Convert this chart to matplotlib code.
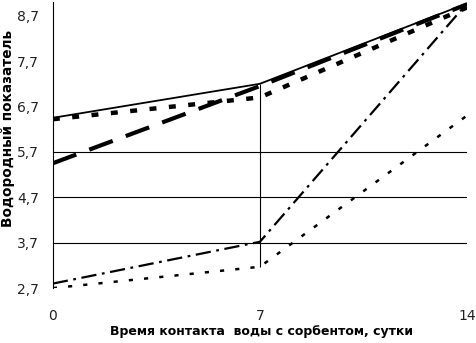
import numpy as np
import matplotlib
matplotlib.use('Agg')
import matplotlib.pyplot as plt

plt.rcParams['font.family'] = ['DejaVu Sans']
plt.rcParams['lines.scale_dashes'] = False

# days of contact
days = [0, 7, 14]
# pH values
ph_solid = [6.45, 7.2, 8.97]
ph_short = [6.42, 6.9, 8.88]
ph_long = [5.45, 7.15, 8.95]
ph_dashdot = [2.8, 3.72, 8.97]
ph_dotted = [2.7, 3.17, 6.5]

yticks = [2.7, 3.7, 4.7, 5.7, 6.7, 7.7, 8.7]
ytick_labels = ['2,7', '3,7', '4,7', '5,7', '6,7', '7,7', '8,7']
grid_vals = [3.7, 4.7, 5.7]

fig = plt.figure(figsize=(4.76, 3.43), dpi=100)
ax = fig.add_axes([0.111, 0.160, 0.870, 0.834])

for g in grid_vals:
    ax.axhline(g, color='black', lw=0.8, zorder=1)

# vertical high-low line at day 7
ax.vlines(7, ph_dotted[1], ph_solid[1], color='black', lw=0.8, zorder=1)

ax.plot(days, ph_solid, color='black', lw=1.3, zorder=3)
l, = ax.plot(days, ph_short, color='black', lw=3.2, zorder=3)
l.set_dashes([5, 9])
l, = ax.plot(days, ph_long, color='black', lw=3.0, zorder=3)
l.set_dashes([18, 10])
l, = ax.plot(days, ph_dashdot, color='black', lw=1.6, zorder=3)
l.set_dashes([11, 4, 2, 4])
l, = ax.plot(days, ph_dotted, color='black', lw=1.8, zorder=3)
l.set_dashes([3, 8])

ax.set_xlim(0, 14)
ax.set_ylim(2.7, 9.0)
ax.set_xticks(days)
ax.set_xticklabels(['0', '7', '14'])
ax.set_yticks(yticks)
ax.set_yticklabels(ytick_labels)
ax.tick_params(axis='both', length=0, labelsize=10, labelcolor='#222222')
ax.tick_params(axis='x', pad=15)
ax.tick_params(axis='y', pad=10)

for s in ['top', 'right', 'bottom']:
    ax.spines[s].set_visible(False)
ax.spines['left'].set_linewidth(0.8)

fig.text(0.55, 1 - 331 / 343, 'Время контакта  воды с сорбентом, сутки',
         fontsize=9, fontweight='bold', ha='center', va='center')
fig.text(8 / 476, 1 - 128 / 343, 'Водородный показатель',
         fontsize=9.8, fontweight='bold', ha='center', va='center', rotation=90)

fig.savefig('out.png', dpi=100)
